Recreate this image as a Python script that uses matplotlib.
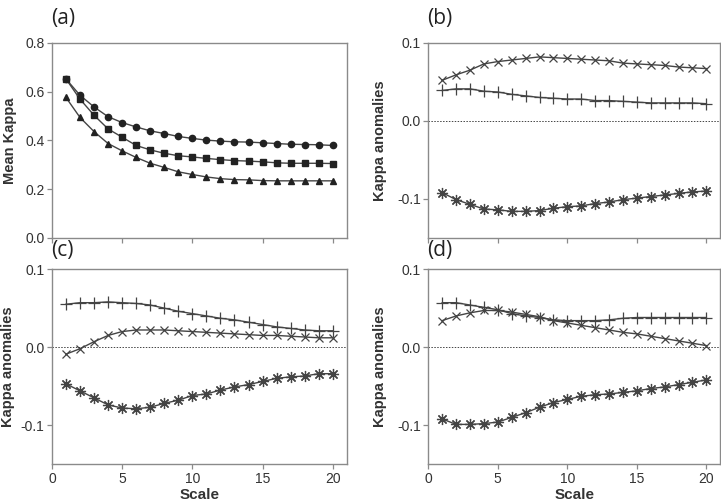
import matplotlib
matplotlib.use("Agg")
import matplotlib.pyplot as plt
import numpy as np

plt.rcParams['font.family'] = ['Liberation Sans', 'DejaVu Sans']
plt.rcParams['axes.unicode_minus'] = False

scale = list(range(1, 21))

# panel (a) mean kappa
kappa_circle = [0.652, 0.585, 0.537, 0.497, 0.473, 0.455, 0.439, 0.428, 0.416, 0.408,
                0.401, 0.397, 0.394, 0.393, 0.390, 0.387, 0.384, 0.383, 0.382, 0.379]
kappa_square = [0.652, 0.569, 0.503, 0.447, 0.413, 0.379, 0.361, 0.347, 0.337, 0.332,
                0.326, 0.321, 0.317, 0.315, 0.312, 0.308, 0.306, 0.306, 0.306, 0.305]
kappa_triangle = [0.576, 0.494, 0.436, 0.387, 0.357, 0.330, 0.306, 0.289, 0.271, 0.260,
                  0.250, 0.243, 0.239, 0.238, 0.235, 0.234, 0.234, 0.234, 0.234, 0.234]

# panel (b) anomalies
b_x = [0.052, 0.059, 0.065, 0.073, 0.076, 0.078, 0.080, 0.082, 0.081, 0.080,
       0.079, 0.078, 0.077, 0.074, 0.073, 0.072, 0.071, 0.069, 0.068, 0.067]
b_plus = [0.039, 0.041, 0.041, 0.038, 0.037, 0.034, 0.032, 0.030, 0.029, 0.028,
          0.028, 0.026, 0.026, 0.025, 0.024, 0.023, 0.023, 0.023, 0.023, 0.022]
b_star = [-0.092, -0.101, -0.107, -0.113, -0.114, -0.116, -0.116, -0.115, -0.112, -0.110,
          -0.109, -0.106, -0.104, -0.101, -0.099, -0.097, -0.095, -0.093, -0.091, -0.090]

# panel (c) anomalies
c_plus = [0.055, 0.057, 0.057, 0.058, 0.057, 0.056, 0.054, 0.050, 0.046, 0.043,
          0.040, 0.037, 0.035, 0.032, 0.029, 0.026, 0.024, 0.022, 0.021, 0.021]
c_x = [-0.009, -0.002, 0.007, 0.015, 0.020, 0.022, 0.022, 0.022, 0.021, 0.020,
       0.019, 0.018, 0.017, 0.016, 0.015, 0.015, 0.014, 0.013, 0.012, 0.012]
c_star = [-0.047, -0.056, -0.065, -0.074, -0.078, -0.079, -0.077, -0.072, -0.068, -0.062,
          -0.060, -0.055, -0.051, -0.048, -0.044, -0.040, -0.038, -0.037, -0.034, -0.034]

# panel (d) anomalies
d_plus = [0.057, 0.057, 0.054, 0.051, 0.048, 0.043, 0.040, 0.038, 0.035, 0.034,
          0.034, 0.034, 0.035, 0.037, 0.038, 0.038, 0.038, 0.038, 0.038, 0.038]
d_x = [0.034, 0.040, 0.044, 0.047, 0.047, 0.045, 0.042, 0.039, 0.034, 0.031,
       0.028, 0.025, 0.022, 0.019, 0.017, 0.014, 0.011, 0.008, 0.005, 0.002]
d_star = [-0.092, -0.099, -0.099, -0.098, -0.096, -0.090, -0.084, -0.077, -0.071, -0.067,
          -0.063, -0.061, -0.060, -0.058, -0.056, -0.053, -0.051, -0.048, -0.045, -0.042]

LINE = '#444444'
SPINE = '#8a8a8a'
TXT = '#333333'
ASTER = (8, 2, 0)


def style(ax, show_x):
    for s in ax.spines.values():
        s.set_color(SPINE)
        s.set_linewidth(1.0)
    ax.tick_params(direction='out', length=3.8, width=0.9, color=SPINE,
                   labelsize=10, labelcolor=TXT, pad=1.5)
    ax.set_xlim(0, 21)
    ax.set_xticks([0, 5, 10, 15, 20])
    if not show_x:
        ax.set_xticklabels([])
    else:
        ax.set_xlabel('Scale', fontsize=11, fontweight='bold', color=TXT, labelpad=2)


def anomaly(ax, plus, cross, star, show_x, pad):
    ax.axhline(0, color='#444444', lw=0.7, ls=(0, (1.5, 1.5)))
    ax.plot(scale, cross, color=LINE, lw=1, marker='x', ms=6, mew=0.9, mec='#444444')
    ax.plot(scale, plus, color=LINE, lw=1, marker='+', ms=9, mew=0.9, mec='#444444')
    ax.plot(scale, star, color=LINE, lw=1, marker=ASTER, ms=8, mew=0.9, mec='#444444')
    ax.set_ylim(-0.15, 0.1)
    ax.set_yticks([-0.1, 0.0, 0.1])
    ax.set_yticklabels(['-0.1', '0.0', '0.1'])
    ax.set_ylabel('Kappa anomalies', fontsize=10.5, fontweight='bold', color=TXT, labelpad=pad)
    style(ax, show_x)


fig = plt.figure(figsize=(7.21, 5.04), dpi=100)
w, h = 0.409, 0.387
ax_a = fig.add_axes([0.072, 0.528, w, h])
ax_b = fig.add_axes([0.594, 0.528, 0.405, h])
ax_c = fig.add_axes([0.072, 0.079, w, h])
ax_d = fig.add_axes([0.594, 0.079, 0.405, h])

ax_a.plot(scale, kappa_circle, color=LINE, lw=1, marker='o', ms=4.5, mfc='#222222', mec='#222222')
ax_a.plot(scale, kappa_square, color=LINE, lw=1, marker='s', ms=4.5, mfc='#222222', mec='#222222')
ax_a.plot(scale, kappa_triangle, color=LINE, lw=1, marker='^', ms=4.5, mfc='#222222', mec='#222222')
ax_a.set_ylim(0, 0.8)
ax_a.set_yticks([0.0, 0.2, 0.4, 0.6, 0.8])
ax_a.set_yticklabels(['0.0', '0.2', '0.4', '0.6', '0.8'])
ax_a.set_ylabel('Mean Kappa', fontsize=10.5, fontweight='bold', color=TXT, labelpad=6)
style(ax_a, False)

anomaly(ax_b, b_plus, b_x, b_star, False, 7)
anomaly(ax_c, c_plus, c_x, c_star, True, 4)
anomaly(ax_d, d_plus, d_x, d_star, True, 7)

for lab, x, y in [('(a)', 0.071, 0.985), ('(b)', 0.592, 0.985),
                  ('(c)', 0.071, 0.523), ('(d)', 0.592, 0.523)]:
    fig.text(x, y, lab, fontsize=15, family='Open Sans', color='#222222',
             va='top', ha='left')

fig.savefig('out.png', dpi=100)
